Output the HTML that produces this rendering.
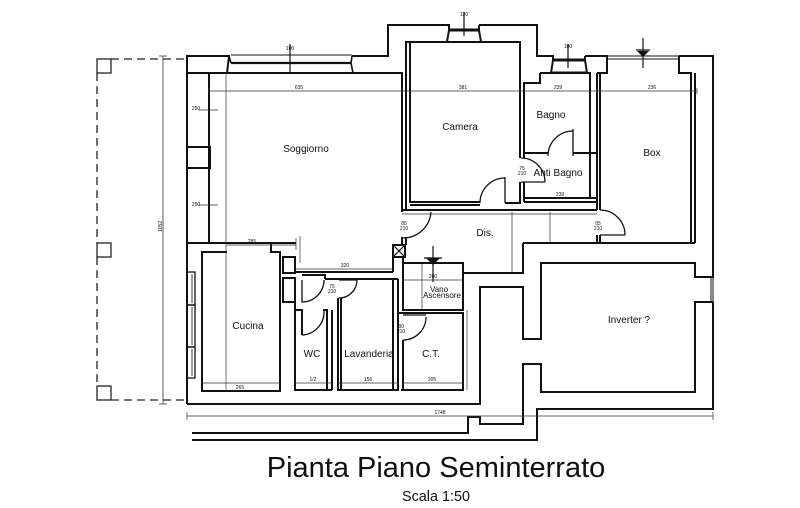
<!DOCTYPE html>
<html><head><meta charset="utf-8"><style>
html,body{margin:0;padding:0;background:#fff;width:800px;height:508px;overflow:hidden}
svg{display:block}
text{font-family:"Liberation Sans",Arial,sans-serif;fill:#111}
</style></head><body>
<svg width="800" height="508" viewBox="0 0 800 508" xmlns="http://www.w3.org/2000/svg">
<rect width="800" height="508" fill="#fff"/>

<!-- dashed porch outline -->
<g stroke="#222" stroke-width="1.3" fill="none">
  <rect x="97" y="59" width="14" height="14"/>
  <rect x="97" y="243" width="14" height="14"/>
  <rect x="97" y="386" width="14" height="14"/>
  <path d="M111,59 H187 M97,73 V243 M97,257 V386 M111,400 H187" stroke-dasharray="8,5"/>
</g>
<!-- vertical dimension left -->
<g stroke="#333" stroke-width="0.8" fill="none">
  <path d="M163,56 V404 M159,56 H167 M159,404 H167"/>
</g>
<text x="0" y="0" font-size="5" transform="translate(162,232) rotate(-90)">1052</text>

<!-- MAIN WALLS (thick) -->
<g stroke="#111" stroke-width="2" fill="none" stroke-linejoin="miter">
  <path d="M187,404 V56 H229 L227,73"/>
  <path d="M187,73 H227"/>
  <path d="M352,56 H388 V25 H449 V30 L447,42"/>
  <path d="M479,25 V30 L481,42"/>
  <path d="M479,25 H537 V56 H553 V60 L551,73"/>
  <path d="M585,56 V60 L587,73"/>
  <path d="M585,56 H607 V73 H597"/>
  <path d="M679,56 H713 V277 H695 V263 H541 V339 H523 V287 H480 V404 H187"/>
  <path d="M679,56 V73 H691 V243"/>
  <path d="M713,302 H695 V392 H541 V364 H523 V424 H480 V417 H468 V433 H192"/>
  <path d="M713,302 V409 H537 V440 H192"/>
  <path d="M227,73 H402 V210"/>
  <path d="M209,73 V243"/>
  <rect x="187" y="147" width="23" height="21"/>
  <path d="M187,243 H296"/>
  <path d="M227,252 H202 V391 H280 V252 H271 V243"/>
  <rect x="283" y="257" width="12" height="16"/>
  <rect x="283" y="278" width="12" height="24"/>
  <path d="M406,210 V42 H520 V158 M520,182 V203 H505"/>
  <path d="M410,42 V202 H480"/>
  <path d="M410,205 H480"/>
  <path d="M402,210 H597"/>
  <path d="M402,210 V212"/>
  <path d="M540,73 V83 H524 V158 M524,182 V202"/>
  <path d="M540,73 H590 V198"/>
  <path d="M524,153 H548 M573,153 H597"/>
  <path d="M524,198 H597"/>
  <path d="M524,202 H597"/>
  <path d="M597,73 V210 M597,235 V243"/>
  <path d="M600,73 V210 M600,235 V243"/>
  <path d="M695,73 V243"/>
  <path d="M523,243 H695"/>
  <path d="M463,263 V273 H523 V243"/>
  <path d="M402,237 V245 M406,237 V245"/>
  <rect x="393" y="245" width="12" height="12"/>
  <path d="M393,257 V272 M403,257 V263"/>
  <rect x="403" y="263" width="60" height="47"/>
  <path d="M403,313 H463 V390 M403,340 V390 M398,279 V390 M398,313 H403"/>
  <path d="M295,272 H393"/>
  <path d="M325,279 H398"/>
  <path d="M302,275 H325 V279"/>
  <path d="M295,302 V390 H332"/>
  <path d="M295,310 H302 V335 M323,310 H327 V390"/>
  <path d="M332,310 V390"/>
  <path d="M338,298 V390 H399"/>
  <path d="M341,298 V390"/>
  <path d="M393,279 V390"/>
  <path d="M401,390 H464"/>
</g>

<!-- windows -->
<g stroke="#111" fill="none">
  <path d="M231,55 H352" stroke-width="1"/>
  <path d="M231,63 H351" stroke-width="2.2"/>
  <path d="M352,56 L351,63 L353,73" stroke-width="1.6"/>
  <path d="M229,56 L231,63" stroke-width="1.6"/>
  <path d="M449,30 H479" stroke-width="3"/>
  <path d="M553,60 H585" stroke-width="3"/>
  <path d="M551,72 H587" stroke-width="1"/>
  <path d="M447,42 H481" stroke-width="1"/>
  <path d="M607,56 H679 M607,59 H679" stroke-width="1"/>
  <path d="M713,277 V302 M711,277 V302" stroke-width="1"/>
  <rect x="187" y="272" width="8" height="33" stroke-width="1.3"/>
  <rect x="187" y="305" width="8" height="42" stroke-width="1.3"/>
  <rect x="187" y="347" width="8" height="31" stroke-width="1.3"/>
  <path d="M192,274 V303 M192,307 V345 M192,349 V376" stroke-width="0.8"/>
</g>

<!-- doors -->
<g stroke="#111" stroke-width="1.3" fill="none">
  <path d="M505,178 A25,25 0 0 0 480,203"/><path d="M505,177 V203"/>
  <path d="M521,158 A24,24 0 0 1 545,182"/><path d="M521,182 H545"/>
  <path d="M548,156 A25,25 0 0 1 573,131"/><path d="M573,129 V156"/>
  <path d="M600,210 A25,25 0 0 1 625,235"/><path d="M600,235 H625"/>
  <path d="M431,212 A28,28 0 0 1 403,238"/>
  <path d="M426,317 A23,23 0 0 1 403,340"/><path d="M403,315 H426"/>
  <path d="M302,280 V302 A22,22 0 0 0 324,280"/>
  <path d="M302,335 A23,23 0 0 0 324,311"/>
  <path d="M357,280 A18,18 0 0 1 339,298"/><path d="M339,280 H357"/>
</g>

<!-- lift X and arrows -->
<g stroke="#111" stroke-width="1.2" fill="none">
  <path d="M393,245 L405,257 M405,245 L393,257"/>
  <path d="M433,246 V282 M424,258 H442"/>
  <path d="M290,44 V72"/><path d="M464,12 V36"/><path d="M568,44 V68"/>
  <path d="M643,38 V68 M636,50 H650"/>
</g>
<path d="M426,258 L440,258 L433,265 Z" fill="#111"/>
<path d="M637,51 L649,51 L643,57 Z" fill="#111"/>

<!-- thin dimension lines -->
<g stroke="#333" stroke-width="0.7" fill="none">
  <path d="M209,91 H697 M209,88 V94 M402,88 V94 M520,88 V94 M597,88 V94 M697,88 V94"/>
  <path d="M226,73 V391"/>
  <path d="M227,245 H296 M296,238 V250"/>
  <path d="M300,236 V263"/>
  <path d="M295,269 H393"/>
  <path d="M512,212 V273 M550,212 V243"/>
  <path d="M402,214 H597"/>
  <path d="M187,416 H713 M187,412 V420 M713,412 V420"/>
  <path d="M202,383 H280 M295,383 H332 M338,383 H398 M403,383 H463"/>
  <path d="M422,263 V310 M403,280 H463"/>
  <path d="M467,310 V390"/>
  <path d="M199,110 H218 M199,205 H218"/>
</g>

<!-- small dimension labels -->
<g font-size="5" fill="#444">
  <text x="299" y="89" text-anchor="middle">635</text>
  <text x="463" y="89" text-anchor="middle">381</text>
  <text x="558" y="89" text-anchor="middle">239</text>
  <text x="652" y="89" text-anchor="middle">236</text>
  <text x="252" y="243" text-anchor="middle">285</text>
  <text x="345" y="267" text-anchor="middle">320</text>
  <text x="440" y="414" text-anchor="middle">1748</text>
  <text x="240" y="389" text-anchor="middle">265</text>
  <text x="313" y="381" text-anchor="middle">1/2</text>
  <text x="368" y="381" text-anchor="middle">156</text>
  <text x="432" y="381" text-anchor="middle">205</text>
  <text x="560" y="196" text-anchor="middle">239</text>
  <text x="433" y="278" text-anchor="middle">200</text>
  <text x="290" y="50" text-anchor="middle">100</text>
  <text x="464" y="16" text-anchor="middle">120</text>
  <text x="568" y="48" text-anchor="middle">100</text>
  <text x="196" y="110" text-anchor="middle">250</text>
  <text x="196" y="206" text-anchor="middle">250</text>
  <text x="404" y="225" text-anchor="middle">85</text>
  <text x="404" y="230" text-anchor="middle">210</text>
  <text x="598" y="225" text-anchor="middle">85</text>
  <text x="598" y="230" text-anchor="middle">210</text>
  <text x="522" y="170" text-anchor="middle">75</text>
  <text x="522" y="175" text-anchor="middle">210</text>
  <text x="332" y="288" text-anchor="middle">75</text>
  <text x="332" y="293" text-anchor="middle">210</text>
  <text x="401" y="328" text-anchor="middle">80</text>
  <text x="401" y="333" text-anchor="middle">210</text>
</g>

<!-- room labels -->
<g font-size="10">
  <text x="306" y="152" text-anchor="middle">Soggiorno</text>
  <text x="460" y="130" text-anchor="middle">Camera</text>
  <text x="551" y="118" text-anchor="middle">Bagno</text>
  <text x="652" y="156" text-anchor="middle">Box</text>
  <text x="558" y="176" text-anchor="middle">Anti Bagno</text>
  <text x="485" y="236" text-anchor="middle">Dis.</text>
  <text x="248" y="329" text-anchor="middle">Cucina</text>
  <text x="312" y="357" text-anchor="middle">WC</text>
  <text x="369" y="357" text-anchor="middle">Lavanderia</text>
  <text x="431" y="357" text-anchor="middle">C.T.</text>
  <text x="629" y="323" text-anchor="middle">Inverter ?</text>
</g>
<g font-size="8">
  <text x="439" y="292" text-anchor="middle">Vano</text>
  <text x="442" y="298" text-anchor="middle">Ascensore</text>
</g>

<!-- title -->
<text x="436" y="477" font-size="29" text-anchor="middle">Pianta Piano Seminterrato</text>
<text x="436" y="501" font-size="14.4" text-anchor="middle">Scala 1:50</text>
</svg>
</body></html>
